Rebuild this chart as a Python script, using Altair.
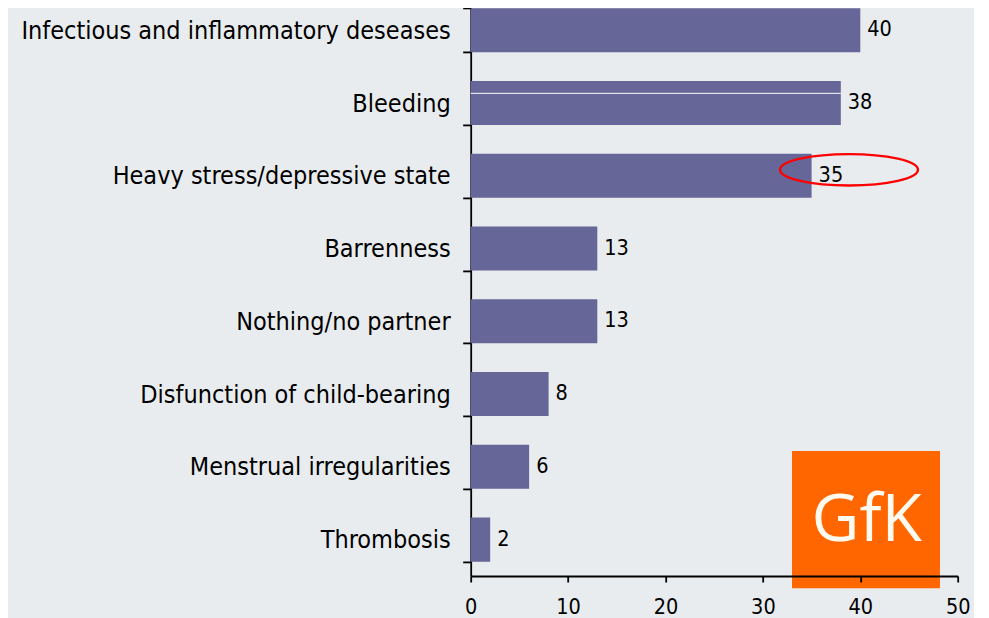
import altair as alt
import pandas as pd

categories = [
    "Infectious and inflammatory deseases",
    "Bleeding",
    "Heavy stress/depressive state",
    "Barrenness",
    "Nothing/no partner",
    "Disfunction of child-bearing",
    "Menstrual irregularities",
    "Thrombosis",
]
values = [40, 38, 35, 13, 13, 8, 6, 2]
x_ticks = [0, 10, 20, 30, 40, 50]

highlight_category = "Heavy stress/depressive state"
highlight_center_x = 38.84
split_category = "Bleeding"

FONT = "DejaVu Sans Condensed"
BAR = "#666699"
BG = "#e9ecee"

df = pd.DataFrame({"cat": categories, "val": values})
df_split = df[df["cat"] == split_category].assign(start=0)
df_hl = pd.DataFrame({"cat": [highlight_category], "cx": [highlight_center_x]})

y_enc = alt.Y(
    "cat:N",
    sort=categories,
    title=None,
    scale=alt.Scale(paddingInner=0.395, paddingOuter=0.1975),
    axis=alt.Axis(
        tickBand="extent",
        tickSize=8,
        tickWidth=1.8,
        tickColor="black",
        domainColor="black",
        domainWidth=1.8,
        labelFont=FONT,
        labelFontSize=25,
        labelColor="black",
        labelPadding=12.5,
        labelLimit=1000,
        grid=False,
    ),
)
x_scale = alt.Scale(domain=[0, 50], nice=False, zero=True)
x_enc = alt.X(
    "val:Q",
    scale=x_scale,
    title=None,
    axis=alt.Axis(
        values=x_ticks,
        tickSize=6,
        tickWidth=1.8,
        tickColor="black",
        domainColor="black",
        domainWidth=1.8,
        labelFont=FONT,
        labelFontSize=21.5,
        labelColor="black",
        labelPadding=15,
        labelFlush=False,
        grid=False,
        zindex=1,
    ),
)

bars = alt.Chart(df).mark_bar(color=BAR).encode(x=x_enc, y=y_enc)

split = alt.Chart(df_split).mark_rule(color="white", strokeWidth=1).encode(
    x=alt.X("start:Q", scale=x_scale),
    x2="val:Q",
    y=alt.Y("cat:N", sort=categories),
    yOffset=alt.value(12.3),
)

labels = alt.Chart(df).mark_text(
    align="left", baseline="middle", dx=7, font=FONT, fontSize=21.5, color="black"
).encode(x=alt.X("val:Q", scale=x_scale), y=alt.Y("cat:N", sort=categories), text="val:Q")

logo = alt.Chart(df.head(1)).mark_rect(color="#ff6600").encode(
    x=alt.value(321.3), x2=alt.value(469.3), y=alt.value(457.1), y2=alt.value(594.4)
)
logo_text = alt.Chart(df.head(1)).mark_text(
    text="GfK", font="Open Sans", fontSize=66, fontWeight=500, color="#fffaf0",
    align="center", baseline="alphabetic"
).encode(x=alt.value(396.0), y=alt.value(547.1))

ellipse_path = (
    "M -1 0 C -1 -0.1256 -0.5523 -0.2275 0 -0.2275 "
    "C 0.5523 -0.2275 1 -0.1256 1 0 "
    "C 1 0.1256 0.5523 0.2275 0 0.2275 "
    "C -0.5523 0.2275 -1 0.1256 -1 0 Z"
)
ellipse = alt.Chart(df_hl).mark_point(
    shape=ellipse_path, size=19044, filled=False, stroke="#ff0000", strokeWidth=2.4, opacity=1
).encode(
    x=alt.X("cx:Q", scale=x_scale),
    y=alt.Y("cat:N", sort=categories),
    yOffset=alt.value(16),
)

chart = (
    alt.layer(bars, split, labels, logo, logo_text, ellipse)
    .properties(
        width=487,
        height=582.1,
        autosize=alt.AutoSizeParams(type="none"),
        padding={"left": 462.7, "top": -14.1, "right": 16, "bottom": 42},
        background=BG,
    )
    .configure_view(stroke=None)
)

chart.save("out.html", embed_options={"renderer": "svg", "actions": False})
